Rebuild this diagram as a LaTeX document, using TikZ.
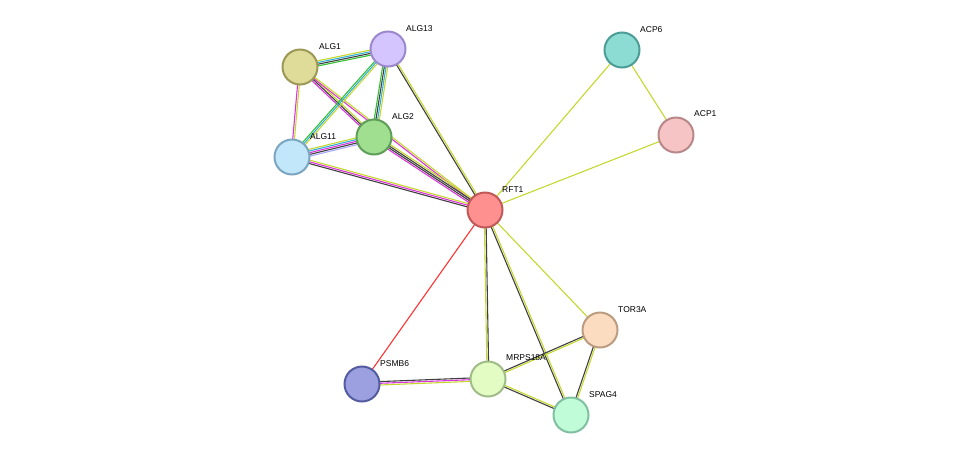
\documentclass[tikz,border=0pt]{standalone}
\usepackage{fontspec}
\setmainfont{Liberation Sans}
\usetikzlibrary{calc}
\definecolor{ey}{HTML}{C4D82E}
\definecolor{ek}{HTML}{404040}
\definecolor{em}{HTML}{DD33DD}
\definecolor{eg}{HTML}{33C033}
\definecolor{ec}{HTML}{33B0D8}
\definecolor{el}{HTML}{A8A8FF}
\definecolor{er}{HTML}{FF3333}
\definecolor{fRFT}{HTML}{FF9090}\definecolor{dRFT}{HTML}{C05858}
\definecolor{fA1}{HTML}{DEDC98}\definecolor{dA1}{HTML}{9C9858}
\definecolor{fA13}{HTML}{D4C4FF}\definecolor{dA13}{HTML}{9C88CC}
\definecolor{fA2}{HTML}{A0DE90}\definecolor{dA2}{HTML}{5E9E58}
\definecolor{fA11}{HTML}{C2E6FA}\definecolor{dA11}{HTML}{7CA6C0}
\definecolor{fC6}{HTML}{8CDCD4}\definecolor{dC6}{HTML}{4C9C98}
\definecolor{fC1}{HTML}{F6C4C4}\definecolor{dC1}{HTML}{B88888}
\definecolor{fT}{HTML}{FCDCC0}\definecolor{dT}{HTML}{BC9C80}
\definecolor{fM}{HTML}{E2FCC4}\definecolor{dM}{HTML}{A0BC88}
\definecolor{fP}{HTML}{9CA0E0}\definecolor{dP}{HTML}{545CA0}
\definecolor{fS}{HTML}{C0FCD8}\definecolor{dS}{HTML}{80C0A0}
\newcommand\edgex[4]{%
  \foreach \c [count=\i] in {#4} {%
    \pgfmathsetmacro\o{(\i-(#3+1)/2)*1.7}%
    \draw[\c,line width=1.1pt] ($(#1)!\o pt!90:(#2)$) -- ($(#2)!\o pt!-90:(#1)$);
  }}
\tikzset{prot/.style args={#1/#2}{circle,minimum size=35pt,inner sep=0pt,line width=2pt,draw=#2,fill=#1},
 lab/.style={font=\fontsize{8.5}{10}\selectfont,anchor=south west,inner sep=1pt}}
\begin{document}
\begin{tikzpicture}[x=1pt,y=-1pt]
\useasboundingbox (0,0) rectangle (976,461);
\coordinate (RFT1) at (485,210);
\coordinate (ALG1) at (300,67);
\coordinate (ALG13) at (388,49);
\coordinate (ALG2) at (374,137);
\coordinate (ALG11) at (292,157);
\coordinate (ACP6) at (622,50);
\coordinate (ACP1) at (676,135);
\coordinate (TOR3A) at (600,330);
\coordinate (MRPS18A) at (488,379);
\coordinate (PSMB6) at (362,384);
\coordinate (SPAG4) at (571,415);
\edgex{ALG1}{ALG13}{4}{eg,ek,ec,ey}
\edgex{ALG1}{ALG2}{3}{em,ek,ey}
\edgex{ALG1}{RFT1}{2}{em,ey}
\edgex{ALG1}{ALG11}{2}{em,ey}
\edgex{ALG13}{ALG2}{4}{eg,ek,ec,ey}
\edgex{ALG13}{ALG11}{3}{eg,ec,ey}
\edgex{ALG13}{RFT1}{2}{ek,ey}
\edgex{ALG2}{ALG11}{5}{ey,ec,em,ek,el}
\edgex{ALG2}{RFT1}{4}{em,ek,ek,ey}
\edgex{ALG11}{RFT1}{3}{ek,em,ey}
\edgex{ACP6}{RFT1}{1}{ey}
\edgex{ACP6}{ACP1}{1}{ey}
\edgex{ACP1}{RFT1}{1}{ey}
\edgex{RFT1}{PSMB6}{1}{er}
\edgex{RFT1}{MRPS18A}{2}{ey,ek}
\edgex{RFT1}{SPAG4}{2}{ek,ey}
\edgex{RFT1}{TOR3A}{1}{ey}
\edgex{MRPS18A}{PSMB6}{3}{ek,em,ey}
\edgex{MRPS18A}{TOR3A}{2}{ey,ek}
\edgex{MRPS18A}{SPAG4}{2}{ek,ey}
\edgex{TOR3A}{SPAG4}{2}{ek,ey}
\node[prot={fRFT/dRFT}] (nRFT1) at (RFT1) {};
\node[prot={fA1/dA1}] (nALG1) at (ALG1) {};
\node[prot={fA13/dA13}] (nALG13) at (ALG13) {};
\node[prot={fA2/dA2}] (nALG2) at (ALG2) {};
\node[prot={fA11/dA11}] (nALG11) at (ALG11) {};
\node[prot={fC6/dC6}] (nACP6) at (ACP6) {};
\node[prot={fC1/dC1}] (nACP1) at (ACP1) {};
\node[prot={fT/dT}] (nTOR3A) at (TOR3A) {};
\node[prot={fM/dM}] (nMRPS18A) at (MRPS18A) {};
\node[prot={fP/dP}] (nPSMB6) at (PSMB6) {};
\node[prot={fS/dS}] (nSPAG4) at (SPAG4) {};
\node[lab] at (501,194) {RFT1};
\node[lab] at (318,51) {ALG1};
\node[lab] at (405,33) {ALG13};
\node[lab] at (391,121) {ALG2};
\node[lab] at (309,141) {ALG11};
\node[lab] at (639,34) {ACP6};
\node[lab] at (693,118) {ACP1};
\node[lab] at (617,314) {TOR3A};
\node[lab] at (505,362) {MRPS18A};
\node[lab] at (379,368) {PSMB6};
\node[lab] at (588,399) {SPAG4};
\end{tikzpicture}
\end{document}
